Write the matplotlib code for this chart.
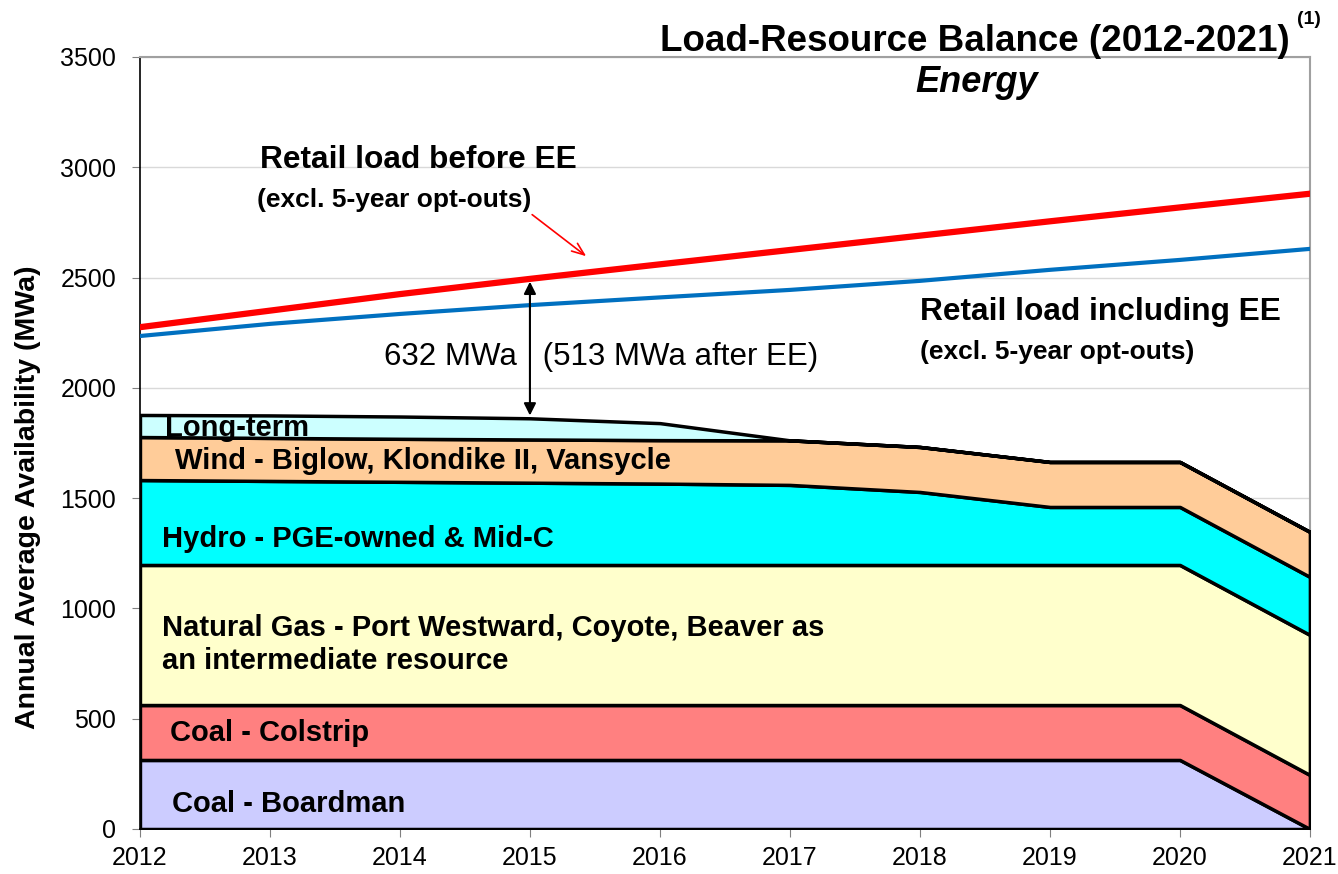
import numpy as np
import matplotlib
matplotlib.use("Agg")
import matplotlib.pyplot as plt

plt.rcParams["font.family"] = ["Liberation Sans", "DejaVu Sans"]

# -----------------------------
# Data (MWa)
# -----------------------------
years = [2012, 2013, 2014, 2015, 2016, 2017, 2018, 2019, 2020, 2021]
boardman = [313, 313, 313, 313, 313, 313, 313, 313, 313, 0]
colstrip = [249, 249, 249, 249, 249, 249, 249, 249, 249, 245]
natural_gas = [635, 635, 635, 635, 635, 635, 635, 635, 635, 635]
hydro = [385, 381, 377, 373, 369, 363, 331, 263, 263, 263]
wind = [195, 195, 195, 196, 197, 202, 204, 204, 204, 204]
long_term = [100, 102, 101, 96, 77, 0, 0, 0, 0, 0]

retail_before_ee = [2275, 2350, 2425, 2494, 2560, 2625, 2690, 2755, 2818, 2880]
retail_with_ee = [2235, 2290, 2335, 2375, 2410, 2444, 2485, 2535, 2580, 2630]

layer_names = ["Coal - Boardman", "Coal - Colstrip",
               "Natural Gas - Port Westward, Coyote, Beaver as\nan intermediate resource",
               "Hydro - PGE-owned & Mid-C", "Wind - Biglow, Klondike II, Vansycle", "Long-term"]
layer_colors = ["#CCCCFF", "#FF8080", "#FFFFCC", "#00FFFF", "#FFCC99", "#CCFFFF"]

# -----------------------------
# Figure
# -----------------------------
fig = plt.figure(figsize=(13.38, 8.74), dpi=100)
ax = fig.add_axes([0.1046, 0.0515, 0.8744, 0.8833])

layers = [boardman, colstrip, natural_gas, hydro, wind, long_term]
bottom = np.zeros(len(years))
tops = []
for vals, col in zip(layers, layer_colors):
    top = bottom + np.array(vals)
    ax.fill_between(years, bottom, top, facecolor=col, edgecolor="black",
                    linewidth=2.5, zorder=3)
    tops.append(top)
    bottom = top

ax.plot(years, retail_before_ee, color="#FF0000", linewidth=4.5, zorder=4)
ax.plot(years, retail_with_ee, color="#0070C0", linewidth=3, zorder=4)

ax.set_xlim(2012, 2021)
ax.set_ylim(0, 3500)
ax.set_xticks(years)
ax.set_yticks(range(0, 3501, 500))
ax.grid(axis="y", color="#D9D9D9", linewidth=1, zorder=0)
ax.set_axisbelow(True)
ax.tick_params(axis="both", labelsize=18, color="#808080", length=6)
ax.tick_params(axis="x", pad=6)
ax.tick_params(axis="y", pad=11)
for s in ["left", "bottom"]:
    ax.spines[s].set_color("black")
    ax.spines[s].set_linewidth(1.2)
for s in ["top", "right"]:
    ax.spines[s].set_color("#A0A0A0")
    ax.spines[s].set_linewidth(1.5)
ax.set_ylabel("Annual Average Availability (MWa)", fontsize=20.5, fontweight="bold")
ax.yaxis.set_label_coords(-0.085, 0.43)

# layer labels
lab_kw = dict(fontsize=21, fontweight="bold", va="center", ha="left", zorder=5)
ax.text(2012.19, 1818, layer_names[5], **lab_kw)
ax.text(2012.27, 1668, layer_names[4], **lab_kw)
ax.text(2012.17, 1315, layer_names[3], **lab_kw)
ax.text(2012.17, 836, layer_names[2], linespacing=1.22, **lab_kw)
ax.text(2012.23, 435, layer_names[1], **lab_kw)
ax.text(2012.25, 113, layer_names[0], **lab_kw)

# load line labels
ax.text(2012.92, 3033, "Retail load before EE", fontsize=22.8, fontweight="bold", va="center")
ax.text(2012.90, 2852, "(excl. 5-year opt-outs)", fontsize=19, fontweight="bold", va="center")
ax.text(2018.0, 2344, "Retail load including EE", fontsize=22.8, fontweight="bold", va="center")
ax.text(2018.0, 2163, "(excl. 5-year opt-outs)", fontsize=19, fontweight="bold", va="center")
ax.annotate("", xy=(2015.45, 2589), xytext=(2015.0, 2793),
            arrowprops=dict(arrowstyle="->,head_length=0.9,head_width=0.35",
                            color="#FF0000", lw=1.2),
            zorder=6)

# gap arrow
gap_top = retail_before_ee[3]
gap_bottom = tops[5][3]
ax.annotate("", xy=(2015, gap_bottom), xytext=(2015, gap_top),
            arrowprops=dict(arrowstyle="<|-|>", color="black", lw=1.5, mutation_scale=18),
            zorder=6)
ax.text(2013.88, 2140, "632 MWa   (513 MWa after EE)", fontsize=22.5, va="center")

# titles
fig.text(0.9641, 0.953, "Load-Resource Balance (2012-2021)", fontsize=26.5, fontweight="bold",
         ha="right", va="center")
fig.text(0.978, 0.978, "(1)", fontsize=14, fontweight="bold", ha="center", va="center")
fig.text(0.7302, 0.906, "Energy", fontsize=26, fontweight="bold", style="italic",
         ha="center", va="center")

fig.savefig("out.png", dpi=100)
